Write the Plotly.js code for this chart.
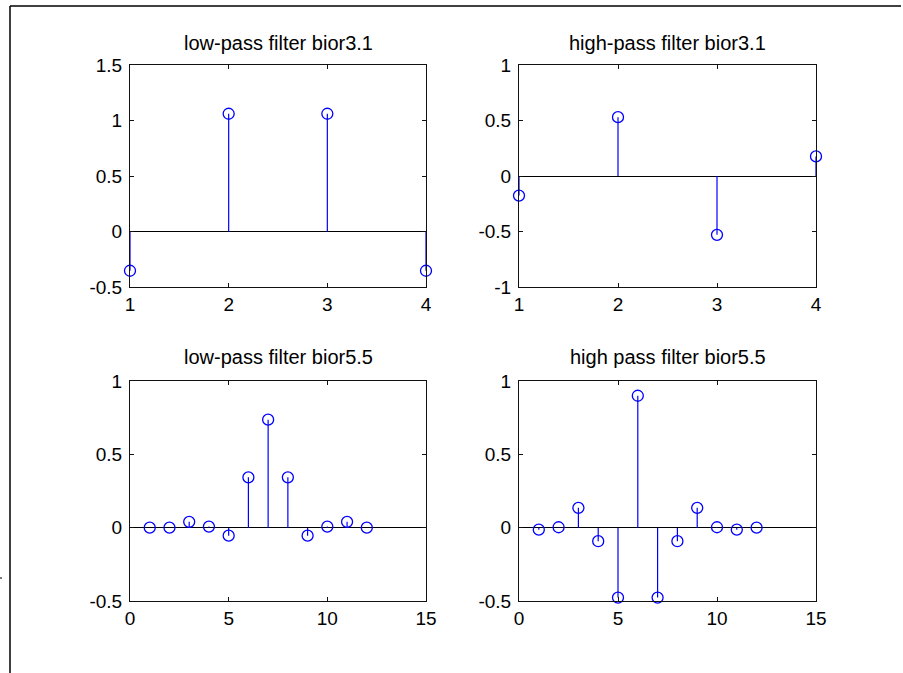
<!DOCTYPE html>
<html>
<head>
<meta charset="utf-8">
<script src="https://cdn.plot.ly/plotly-3.0.1.min.js"></script>
<style>html,body{margin:0;padding:0;background:#fff;}#chart{width:903px;height:673px;}</style>
</head>
<body>
<div id="chart"></div>
<script>
// ---- data ----
const titles = ["low-pass filter bior3.1", "high-pass filter bior3.1", "low-pass filter bior5.5", "high pass filter bior5.5"];
const n31 = [1, 2, 3, 4];
const lo31 = [-0.3536, 1.0607, 1.0607, -0.3536];
const hi31 = [-0.1768, 0.5303, -0.5303, 0.1768];
const n55 = [1, 2, 3, 4, 5, 6, 7, 8, 9, 10, 11, 12];
const lo55 = [0, 0, 0.0397, 0.0075, -0.0546, 0.3429, 0.7364, 0.3429, -0.0546, 0.0075, 0.0397, 0];
const hi55 = [-0.0134, 0.0027, 0.1354, -0.0924, -0.4768, 0.8996, -0.4768, -0.0924, 0.1354, 0.0027, -0.0134, 0];

const xt31 = [1, 2, 3, 4], xt31Text = ["1", "2", "3", "4"];
const xt55 = [0, 5, 10, 15], xt55Text = ["0", "5", "10", "15"];
const ytA = [-0.5, 0, 0.5, 1, 1.5], ytAText = ["-0.5", "0", "0.5", "1", "1.5"];
const ytB = [-1, -0.5, 0, 0.5, 1], ytBText = ["-1", "-0.5", "0", "0.5", "1"];
const ytC = [-0.5, 0, 0.5, 1], ytCText = ["-0.5", "0", "0.5", "1"];

// ---- build traces ----
const blue = "#0000ff";
function stem(xs, ys, xa, ya) {
  const sx = [], sy = [];
  xs.forEach((x, i) => { sx.push(x, x, null); sy.push(0, ys[i], null); });
  return [
    {x: sx, y: sy, xaxis: xa, yaxis: ya, mode: "lines", line: {color: blue, width: 1.2}, cliponaxis: false, hoverinfo: "skip", showlegend: false},
    {x: xs, y: ys, xaxis: xa, yaxis: ya, mode: "markers", marker: {symbol: "circle-open", size: 11, color: blue, line: {width: 1.3, color: blue}}, cliponaxis: false, showlegend: false}
  ];
}
const data = [].concat(
  stem(n31, lo31, "x", "y"),
  stem(n31, hi31, "x2", "y2"),
  stem(n55, lo55, "x3", "y3"),
  stem(n55, hi55, "x4", "y4")
);

const font = {family: "Liberation Sans, Arial, sans-serif", size: 19, color: "#000"};
function xax(dom, anchor, range, tv, tt) {
  return {domain: dom, anchor: anchor, range: range, tickvals: tv, ticktext: tt, showgrid: false, zeroline: false,
    showline: true, linecolor: "#111", linewidth: 1, mirror: "ticks", ticks: "inside", ticklen: 4, tickcolor: "#111", tickfont: font, fixedrange: true};
}
function yax(dom, anchor, range, tv, tt) {
  return {domain: dom, anchor: anchor, range: range, tickvals: tv, ticktext: tt, showgrid: false, zeroline: true, zerolinecolor: "#000", zerolinewidth: 1,
    showline: true, linecolor: "#111", linewidth: 1, mirror: "ticks", ticks: "inside", ticklen: 4, tickcolor: "#111", tickfont: font, ticklabelstandoff: 3, fixedrange: true};
}
const W = 903, H = 673;
const colL = [130 / W, 426 / W], colR = [519 / W, 816 / W];
const rowT = [1 - 287 / H, 1 - 65 / H], rowB = [1 - 601 / H, 1 - 381 / H];

const titleFont = {family: "Liberation Sans, Arial, sans-serif", size: 20, color: "#000"};
function ann(text, dom, ypix) {
  return {text: text, xref: "paper", yref: "paper", x: (dom[0] + dom[1]) / 2, y: 1 - ypix / H, xanchor: "center", yanchor: "middle", showarrow: false, font: titleFont};
}

const layout = {
  width: W, height: H, margin: {l: 0, r: 0, t: 0, b: 0}, paper_bgcolor: "#fff", plot_bgcolor: "#fff", showlegend: false,
  xaxis: xax(colL, "y", [1, 4], xt31, xt31Text),
  yaxis: yax(rowT, "x", [-0.5, 1.5], ytA, ytAText),
  xaxis2: xax(colR, "y2", [1, 4], xt31, xt31Text),
  yaxis2: yax(rowT, "x2", [-1, 1], ytB, ytBText),
  xaxis3: xax(colL, "y3", [0, 15], xt55, xt55Text),
  yaxis3: yax(rowB, "x3", [-0.5, 1], ytC, ytCText),
  xaxis4: xax(colR, "y4", [0, 15], xt55, xt55Text),
  yaxis4: yax(rowB, "x4", [-0.5, 1], ytC, ytCText),
  annotations: [ann(titles[0], colL, 43), ann(titles[1], colR, 43), ann(titles[2], colL, 357), ann(titles[3], colR, 357)],
  shapes: [
    {type: "line", xref: "paper", yref: "paper", x0: 10 / W, x1: 901 / W, y0: 1 - 6 / H, y1: 1 - 6 / H, line: {color: "#000", width: 1.5}},
    {type: "line", xref: "paper", yref: "paper", x0: 10 / W, x1: 10 / W, y0: 1 - 6 / H, y1: 0, line: {color: "#000", width: 1.5}},
    {type: "line", xref: "paper", yref: "paper", x0: 0, x1: 2 / W, y0: 1 - 578 / H, y1: 1 - 578 / H, line: {color: "#777", width: 2}}
  ]
};
Plotly.newPlot("chart", data, layout, {displayModeBar: false, staticPlot: true});
</script>
</body>
</html>
